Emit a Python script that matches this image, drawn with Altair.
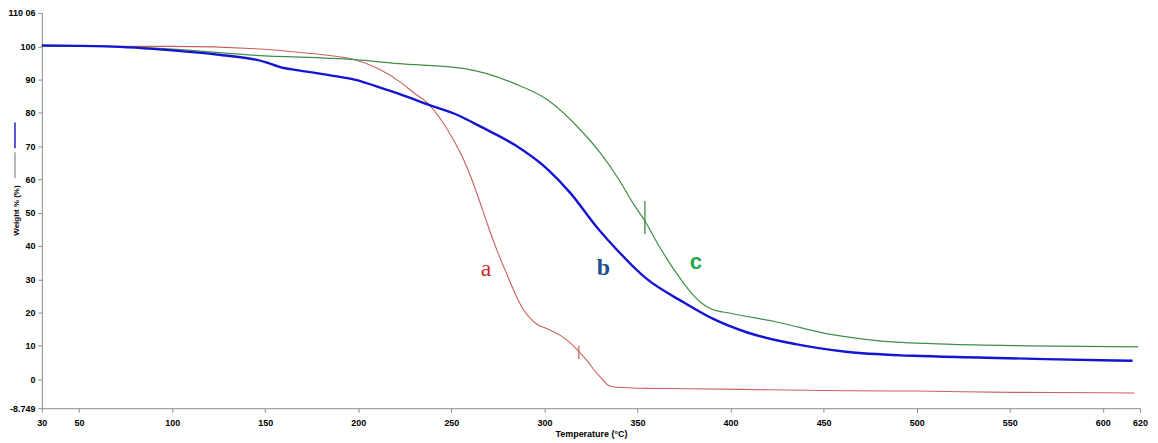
import altair as alt
import pandas as pd

# Series a (red)
a_temp = [30, 60, 100, 145, 172, 198, 210, 222, 230, 238, 245, 251, 257, 262, 267, 271, 275, 280, 284, 288, 292, 296, 302, 309, 314, 319, 323, 327, 331, 334, 337, 345, 355, 377, 420, 462, 500, 551, 600, 617]
a_val = [100, 100, 100, 99.3, 98.0, 96.0, 93.5, 89.5, 86.0, 82.5, 77.5, 72.0, 65.5, 58.5, 50.5, 44.0, 38.0, 31.3, 26.0, 21.5, 18.5, 16.5, 15.0, 13.0, 10.8, 8.0, 5.5, 2.5, 0.0, -1.8, -2.3, -2.6, -2.8, -2.9, -3.2, -3.5, -3.6, -4.0, -4.1, -4.2]
# Series b (blue)
b_temp = [30, 65, 100, 125, 145, 150, 160, 168, 185, 198, 215, 221.5, 238, 253.6, 266, 284, 302, 314, 328.5, 334, 355, 375, 391, 409, 435, 462, 498, 533, 569, 616]
b_val = [100.3, 100, 98.8, 97.5, 96.0, 95.3, 93.5, 92.8, 91.3, 90.0, 87.0, 85.8, 82.4, 79.3, 75.8, 70.4, 62.9, 55.9, 45.4, 41.9, 30.1, 23.0, 18.0, 14.0, 10.5, 8.2, 7.0, 6.5, 6.0, 5.5]
# Series c (green)
c_temp = [30, 60, 100, 145, 198, 221.5, 257, 284, 302, 320, 330, 340, 348, 354, 360, 366, 372, 378, 384, 390, 400, 426, 453, 480, 516, 560, 619]
c_val = [100, 100, 99.2, 97.3, 96.0, 94.8, 93.3, 88.8, 83.8, 74.5, 68.0, 60.0, 52.5, 47.5, 41.5, 36.0, 31.0, 26.5, 23.0, 21.0, 19.8, 17.0, 13.5, 11.5, 10.5, 10.0, 9.7]

labels = ["a", "b", "c"]
label_temp = [268.6, 331.7, 381.4]
label_val = [33.0, 33.5, 35.3]

x_ticks = [30, 50, 100, 150, 200, 250, 300, 350, 400, 450, 500, 550, 600, 620]
y_ticks = [-8.749, 0, 10, 20, 30, 40, 50, 60, 70, 80, 90, 100, 110.06]

xs = alt.Scale(domain=[30, 620], nice=False, zero=False)
ys = alt.Scale(domain=[-8.749, 110.06], nice=False, zero=False)

xaxis = alt.Axis(values=x_ticks, title="Temperature (°C)", grid=False, domainColor="#8a8a8a",
                 tickColor="#8a8a8a", tickSize=4, labelFont="Liberation Sans", labelFontSize=9,
                 labelFontWeight="bold", titleFont="Liberation Sans", titleFontSize=9,
                 titleFontWeight="bold", labelPadding=6, titlePadding=2, labelFlush=False,
                 labelOverlap=False)
yaxis = alt.Axis(values=y_ticks, title="Weight % (%)", grid=False, domainColor="#8a8a8a",
                 tickColor="#8a8a8a", tickSize=4, labelFont="Liberation Sans", labelFontSize=9,
                 labelFontWeight="bold", titleFont="Liberation Sans", titleFontSize=8,
                 titleFontWeight="bold", labelPadding=3, labelOverlap=False, labelFlush=False,
                 titleX=-25, titleY=198, titleAngle=-90, titleAlign="center", titleBaseline="middle",
                 labelExpr="datum.value == 110.06 ? '110 06' : datum.value == -8.749 ? '-8.749' : datum.label")

X = lambda f: alt.X(f, scale=xs, axis=xaxis)
Y = lambda f: alt.Y(f, scale=ys, axis=yaxis)


def series_layer(temps, vals, col, sw):
    d = pd.DataFrame({"temp": temps, "val": vals})
    return alt.Chart(d).mark_line(interpolate="monotone", color=col, strokeWidth=sw).encode(
        x=X("temp:Q"), y=Y("val:Q"))


line_a = series_layer(a_temp, a_val, "#c9605c", 1.1)
line_c = series_layer(c_temp, c_val, "#3e8e46", 1.2)
line_b = series_layer(b_temp, b_val, "#1414d2", 2.4)

# small tick markers on curves a and c
mk_df = pd.DataFrame({"t": [318.5, 354.0], "v1": [6.0, 43.5], "v2": [10.0, 53.5], "c": ["#c9605c", "#2f7d36"]})
markers = alt.Chart(mk_df).mark_rule(strokeWidth=1.2).encode(
    x=X("t:Q"), y=Y("v1:Q"), y2="v2:Q", color=alt.Color("c:N", scale=None)
)

lab_df = pd.DataFrame({"lab": labels, "t": label_temp, "v": label_val})
lab_a = alt.Chart(lab_df[lab_df.lab == "a"]).mark_text(font="Liberation Serif", fontSize=24, color="#cf2a2a").encode(x=X("t:Q"), y=Y("v:Q"), text="lab:N")
lab_b = alt.Chart(lab_df[lab_df.lab == "b"]).mark_text(font="Liberation Serif", fontSize=24, fontWeight="bold", color="#1f4f8f").encode(x=X("t:Q"), y=Y("v:Q"), text="lab:N")
lab_c = alt.Chart(lab_df[lab_df.lab == "c"]).mark_text(font="Liberation Sans", fontSize=22, fontWeight="bold", color="#1fa845").encode(x=X("t:Q"), y=Y("v:Q"), text="lab:N")

# legend-like marks beside the y-axis title
leg_blue = alt.Chart(pd.DataFrame({"k": [0]})).mark_rule(color="#2020c8", strokeWidth=1.5).encode(
    x=alt.value(-27), y=alt.value(110), y2=alt.value(136))
leg_gray = alt.Chart(pd.DataFrame({"k": [0]})).mark_rule(color="#707070", strokeWidth=1).encode(
    x=alt.value(-27), y=alt.value(140), y2=alt.value(166))

chart = alt.layer(line_a, line_c, line_b, markers, lab_a, lab_b, lab_c, leg_blue, leg_gray).properties(
    width=1103, height=397,
    autosize="none",
    padding={"left": 34, "top": 4, "right": 10, "bottom": 30},
).configure_view(stroke=None).configure_axis(labelOverlap=False)

chart.save("out.html", embed_options={"renderer": "svg", "actions": False})
